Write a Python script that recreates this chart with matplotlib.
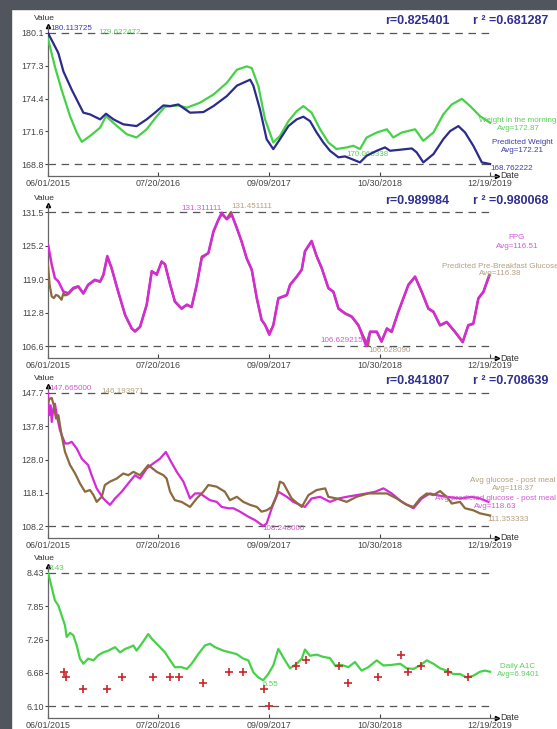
import matplotlib
matplotlib.use("Agg")
import matplotlib.pyplot as plt
from matplotlib.patches import Rectangle

plt.rcParams['font.family'] = ['Liberation Sans', 'DejaVu Sans']

# x axis: days since 06/01/2015
date_ticks = [0, 415, 831, 1247, 1662]
date_labels = ['06/01/2015', '07/20/2016', '09/09/2017', '10/30/2018', '12/19/2019']

# ---- panel 1: weight ----
weight_days = [0, 26, 51, 83, 108, 127, 158, 196, 218, 252, 296, 333, 371, 409, 440, 490, 522, 571,
               622, 672, 710, 747, 766, 791, 816, 847, 872, 904, 935, 960, 991, 1023, 1054, 1085,
               1123, 1148, 1173, 1198, 1236, 1274, 1298, 1330, 1380, 1411, 1449, 1486, 1518, 1556,
               1587, 1624, 1662]
weight_vals = [179.62, 177.2, 175.2, 172.9, 171.49, 170.68, 171.19, 171.91, 172.91, 172.2, 171.34,
               171.06, 171.77, 172.91, 173.72, 173.84, 173.64, 174.07, 174.78, 175.79, 176.93, 177.22,
               177.08, 175.5, 172.63, 170.63, 171.19, 172.48, 173.34, 173.78, 173.21, 171.77, 170.63,
               170.06, 170.2, 170.34, 170.06, 171.06, 171.49, 171.77, 171.06, 171.49, 171.77, 170.77,
               171.49, 173.06, 173.92, 174.41, 173.78, 172.91, 172.34]
pred_weight_days = [0, 20, 39, 58, 89, 114, 133, 158, 196, 218, 246, 283, 333, 371, 402, 434, 459,
                    490, 534, 584, 622, 672, 710, 760, 772, 797, 822, 847, 872, 904, 935, 960, 985,
                    1010, 1035, 1060, 1092, 1117, 1142, 1173, 1198, 1236, 1267, 1286, 1324, 1368,
                    1386, 1411, 1449, 1486, 1512, 1543, 1568, 1599, 1631, 1662]
pred_weight_vals = [180.11, 179.23, 178.37, 176.78, 175.21, 174.07, 173.21, 173.06, 172.63, 173.12,
                    172.63, 172.2, 172.05, 172.63, 173.21, 173.84, 173.78, 173.92, 173.21, 173.26,
                    173.78, 174.64, 175.55, 176.07, 175.55, 173.49, 170.91, 170.05, 170.91, 172.05,
                    172.63, 172.86, 172.48, 171.49, 170.63, 169.91, 169.34, 169.42, 169.19, 168.9,
                    169.48, 169.91, 170.2, 169.91, 170.0, 170.11, 169.77, 168.9, 169.62, 170.91,
                    171.62, 172.05, 171.49, 170.34, 168.9, 168.76]
weight_max, weight_min, weight_avg = 179.622472, 170.060338, 172.87
pred_weight_max, pred_weight_min, pred_weight_avg = 180.113725, 168.762222, 172.21
r1, r1_sq = 0.825401, 0.681287

# ---- panel 2: fasting glucose ----
fpg_days = [0, 14, 26, 39, 58, 76, 95, 114, 133, 151, 176, 196, 208, 223, 239, 264, 290, 315, 327,
            346, 371, 390, 409, 427, 440, 459, 477, 502, 522, 540, 559, 578, 603, 622, 641, 653,
            672, 691, 710, 728, 747, 766, 785, 803, 816, 832, 847, 866, 898, 910, 935, 954, 966,
            991, 1010, 1029, 1054, 1073, 1092, 1117, 1142, 1167, 1196, 1211, 1236, 1254, 1274,
            1292, 1317, 1355, 1380, 1405, 1430, 1449, 1474, 1499, 1530, 1559, 1580, 1599, 1618,
            1637, 1659]
fpg_vals = [125.43, 121.7, 119.2, 118.6, 116.7, 116.4, 117.4, 117.7, 116.4, 118.0, 118.9, 118.6,
            119.8, 123.3, 121.1, 116.7, 112.4, 109.9, 109.3, 110.2, 114.3, 120.5, 119.8, 122.3,
            121.7, 118.0, 114.9, 113.6, 114.3, 113.9, 118.0, 122.9, 123.9, 127.9, 130.1, 131.31,
            130.1, 130.9, 128.5, 126.0, 122.9, 120.8, 115.5, 111.5, 110.5, 108.7, 110.5, 115.5,
            116.1, 118.0, 119.5, 120.8, 124.2, 126.1, 123.3, 121.1, 117.4, 116.7, 113.6, 112.7,
            112.1, 110.5, 106.63, 109.3, 109.3, 107.5, 109.9, 109.3, 113.0, 118.0, 119.5, 116.7,
            113.6, 113.0, 110.5, 111.1, 109.3, 107.4, 110.5, 110.8, 115.5, 116.7, 119.8]
pred_fpg_days = [0, 6, 14, 22, 30, 39, 51, 58, 64, 76, 95, 114, 133, 151, 176, 196, 208, 223, 239,
                 264, 290, 315, 327, 346, 371, 390, 409, 427, 440, 459, 477, 502, 522, 540, 559,
                 578, 603, 622, 641, 653, 672, 688, 710, 728, 747, 766, 785, 803, 816, 832, 847,
                 866, 898, 910, 935, 954, 966, 991, 1010, 1029, 1054, 1073, 1092, 1117, 1142, 1167,
                 1203, 1211, 1236, 1254, 1274, 1292, 1317, 1355, 1380, 1405, 1430, 1449, 1474,
                 1499, 1530, 1559, 1580, 1599, 1618, 1637, 1659]
pred_fpg_vals = [121.7, 118.0, 115.8, 115.5, 116.1, 115.9, 115.2, 116.4, 116.0, 116.2, 117.2,
                 117.6, 116.3, 117.9, 118.8, 118.5, 119.7, 123.1, 121.0, 116.6, 112.3, 109.8,
                 109.4, 110.1, 114.2, 120.4, 120.0, 122.2, 121.8, 118.1, 114.8, 113.5, 114.2,
                 113.8, 117.8, 123.2, 123.8, 127.7, 130.0, 131.0, 130.2, 131.45, 128.4, 125.9,
                 122.8, 120.7, 115.4, 111.4, 110.6, 109.0, 110.4, 115.4, 116.0, 117.9, 119.4,
                 120.7, 124.1, 126.0, 123.2, 121.0, 117.3, 116.6, 113.5, 112.6, 112.0, 110.4,
                 106.63, 109.2, 109.2, 107.4, 109.8, 109.2, 112.9, 117.9, 119.4, 116.6, 113.5,
                 112.9, 110.4, 111.0, 109.2, 107.3, 110.4, 110.7, 115.4, 116.6, 119.6]
fpg_max, fpg_min, fpg_avg = 131.311111, 106.629215, 116.51
pred_fpg_max, pred_fpg_min, pred_fpg_avg = 131.451111, 106.628090, 116.38
r2, r2_sq = 0.989984, 0.980068

# ---- panel 3: post meal glucose ----
pm_days = [0, 7, 14, 22, 30, 39, 51, 64, 83, 102, 120, 139, 158, 171, 183, 202, 214, 233, 258, 283,
           302, 321, 346, 377, 409, 434, 446, 459, 477, 502, 534, 559, 584, 603, 634, 665, 684,
           710, 734, 760, 785, 803, 822, 841, 860, 872, 885, 916, 954, 979, 1010, 1042, 1054,
           1085, 1123, 1160, 1204, 1236, 1274, 1311, 1349, 1374, 1399, 1424, 1449, 1474, 1499,
           1518, 1549, 1568, 1599, 1624, 1662]
pm_vals = [145.0, 146.0, 146.19, 144.0, 140.1, 141.1, 135.2, 130.2, 126.3, 123.8, 120.9, 118.4,
           118.9, 117.4, 115.4, 116.9, 120.4, 121.4, 122.3, 123.8, 123.3, 124.3, 123.3, 126.3,
           124.3, 123.3, 122.3, 118.4, 115.9, 115.4, 113.9, 116.4, 118.4, 120.4, 119.9, 118.4,
           115.9, 116.9, 115.4, 114.5, 113.9, 112.5, 112.9, 113.9, 117.4, 121.4, 120.9, 116.4,
           113.9, 117.4, 118.9, 119.4, 116.9, 116.4, 115.4, 116.9, 117.9, 117.9, 117.9, 116.4,
           114.5, 113.9, 116.4, 117.9, 117.4, 118.6, 116.9, 114.9, 115.4, 113.5, 112.9, 112.0,
           111.35]
pred_pm_days = [0, 4, 10, 14, 20, 26, 33, 45, 64, 76, 89, 108, 127, 151, 164, 183, 208, 233, 252,
                277, 302, 327, 346, 371, 396, 421, 443, 459, 484, 509, 534, 553, 572, 590, 609,
                634, 653, 678, 697, 722, 753, 778, 809, 822, 841, 866, 898, 922, 948, 966, 991,
                1023, 1060, 1092, 1123, 1160, 1198, 1230, 1261, 1292, 1330, 1374, 1405, 1436,
                1461, 1499, 1549, 1593, 1624, 1656]
pred_pm_vals = [147.67, 141.1, 144.0, 139.1, 143.0, 144.5, 141.1, 136.6, 132.7, 132.7, 133.2, 131.2,
                128.2, 126.3, 123.3, 119.4, 116.4, 114.5, 116.4, 118.4, 120.9, 123.3, 122.3, 125.3,
                126.8, 128.2, 130.2, 127.8, 124.3, 121.4, 116.4, 117.9, 117.9, 116.9, 115.9, 115.4,
                113.9, 113.5, 113.5, 112.5, 111.0, 110.0, 108.25, 109.0, 113.5, 118.4, 116.9,
                115.4, 114.5, 113.9, 116.4, 116.9, 115.4, 116.4, 116.9, 117.4, 117.9, 118.4, 119.4,
                117.9, 115.4, 113.5, 116.4, 117.9, 117.4, 116.9, 116.4, 116.9, 116.4, 115.4]
pm_max, pm_min, pm_avg = 146.193971, 111.353333, 118.37
pred_pm_max, pred_pm_min, pred_pm_avg = 147.665000, 108.248000, 118.63
r3, r3_sq = 0.841807, 0.708639

# ---- panel 4: A1C ----
a1c_days = [0, 6, 18, 26, 39, 51, 64, 70, 83, 95, 108, 120, 133, 151, 171, 189, 208, 227, 239, 252,
            271, 290, 308, 321, 333, 352, 377, 390, 415, 440, 459, 477, 502, 522, 540, 565, 590,
            609, 628, 659, 684, 709, 734, 753, 772, 791, 809, 828, 847, 866, 891, 910, 935, 954,
            966, 985, 1010, 1035, 1060, 1079, 1104, 1129, 1154, 1179, 1204, 1236, 1261, 1292,
            1324, 1349, 1374, 1399, 1424, 1449, 1474, 1499, 1524, 1549, 1574, 1599, 1624, 1643,
            1662]
a1c_vals = [8.43, 8.33, 8.10, 7.95, 7.86, 7.69, 7.51, 7.31, 7.38, 7.34, 7.16, 6.93, 6.84, 6.93,
            6.90, 6.99, 7.04, 7.07, 7.10, 7.13, 7.04, 7.10, 7.13, 7.16, 7.07, 7.19, 7.36, 7.28,
            7.16, 7.04, 6.90, 6.78, 6.78, 6.75, 6.84, 7.01, 7.16, 7.19, 7.13, 7.07, 7.04, 7.01,
            6.93, 6.90, 6.69, 6.60, 6.55, 6.66, 6.81, 7.10, 6.90, 6.76, 6.84, 6.93, 7.09, 6.98,
            7.00, 6.96, 6.94, 6.81, 6.82, 6.78, 6.87, 6.72, 6.78, 6.90, 6.81, 6.82, 6.84, 6.76,
            6.75, 6.81, 6.90, 6.84, 6.76, 6.72, 6.66, 6.66, 6.60, 6.63, 6.70, 6.72, 6.70]
lab_days = [60, 68, 132, 222, 278, 395, 459, 493, 583, 681, 733, 812, 831, 933, 970, 1094, 1128,
            1241, 1327, 1354, 1403, 1504, 1579]
lab_vals = [6.7, 6.6, 6.4, 6.4, 6.6, 6.6, 6.6, 6.6, 6.5, 6.7, 6.7, 6.4, 6.1, 6.8, 6.9, 6.8, 6.5,
            6.6, 7.0, 6.7, 6.8, 6.7, 6.6]
a1c_max, a1c_min, a1c_avg = 8.43, 6.55, 6.9401

GREEN, GREEN_T = '#46d246', '#5ccf5c'
NAVY, NAVY_T = '#2b2b8c', '#3c3cae'
MAG, MAG_T = '#d52ad5', '#d35ad3'
BROWN, TAN_T = '#8a6a3e', '#b3a080'
R_COL = '#30308e'
RED = '#c8262a'

W, H = 557, 729
fig = plt.figure(figsize=(W / 100, H / 100), dpi=100)
fig.patch.set_facecolor('white')
fig.add_artist(Rectangle((0, 0), 11 / W, 1, transform=fig.transFigure, color='#51555d', zorder=0))
fig.add_artist(Rectangle((0, 1 - 9 / H), 1, 9 / H, transform=fig.transFigure, color='#51555d', zorder=0))

# panel pixel extents (top, bottom)
rows = [(26, 176), (205, 358), (386, 538), (566, 718)]


def make_panel(top, bottom, lo, hi, fmt):
    ax = fig.add_axes([48 / W, 1 - bottom / H, 449 / W, (bottom - top) / H])
    scale = (hi - lo) / (bottom - top - 19)
    ax.set_ylim(lo - 12 * scale, hi + 7 * scale)
    ax.set_xlim(0, 1688)
    for s in ['top', 'right']:
        ax.spines[s].set_visible(False)
    for s in ['left', 'bottom']:
        ax.spines[s].set_color('#666666')
        ax.spines[s].set_linewidth(0.9)
    ticks = [lo + k * (hi - lo) / 4 for k in range(5)]
    ax.set_yticks(ticks)
    ax.set_yticklabels([fmt.format(t) for t in ticks])
    ax.set_xticks(date_ticks)
    ax.set_xticklabels(date_labels)
    ax.tick_params(axis='y', direction='out', length=2, pad=1, labelsize=6.4, colors='#444444')
    ax.tick_params(axis='x', direction='in', length=3, pad=2, labelsize=6.4, colors='#444444')
    ax.hlines([lo, hi], date_ticks[0], date_ticks[-1], colors='#555555', linestyles=(0, (6, 4.5)),
              linewidth=0.9, zorder=1)
    ax.plot(0, 1, marker='^', color='black', markersize=3, transform=ax.transAxes, clip_on=False)
    ax.plot(1, 0, marker='>', color='black', markersize=3, transform=ax.transAxes, clip_on=False)
    fig.text(44 / W, 1 - (top - 7) / H, 'Value', fontsize=6, color='#333333', ha='center', va='center')
    fig.text(500 / W, 1 - bottom / H, 'Date', fontsize=6.4, color='#333333', ha='left', va='center')
    return ax


def tag(ax, x, y, text, color, dx, dy, ha='left'):
    ax.annotate(text, (x, y), xytext=(dx, dy), textcoords='offset pixels', fontsize=5.8,
                color=color, ha=ha, va='center', zorder=2, annotation_clip=False)


def ftext(x, y, text, color):
    fig.text(x / W, 1 - y / H, text, fontsize=5.8, color=color, ha='center', va='center')


def rtext(y, r, rsq):
    fig.text(385 / W, 1 - y / H, 'r={:.6f}'.format(r), fontsize=9, fontweight='bold', color=R_COL,
             ha='left', va='center')
    fig.text(473 / W, 1 - y / H, 'r \u00b2 ={:.6f}'.format(rsq), fontsize=9, fontweight='bold',
             color=R_COL, ha='left', va='center')


# panel 1
ax1 = make_panel(*rows[0], pred_weight_min, pred_weight_max, '{:.1f}')
ax1.plot(weight_days, weight_vals, color=GREEN, lw=1.6, zorder=3)
ax1.plot(pred_weight_days, pred_weight_vals, color=NAVY, lw=1.6, zorder=4)
tag(ax1, 0, pred_weight_max, '{:.6f}'.format(pred_weight_max), NAVY_T, 2, 5)
tag(ax1, 0, weight_max, '{:.6f}'.format(weight_max), GREEN_T, 50, 6)
tag(ax1, 1085, weight_min, '{:.6f}'.format(weight_min), GREEN_T, 10, -5)
tag(ax1, 1662, pred_weight_min, '{:.6f}'.format(pred_weight_min), NAVY_T, 0, -5)
ftext(518, 121, 'Weight in the morning', GREEN_T)
ftext(518, 128, 'Avg={:.2f}'.format(weight_avg), GREEN_T)
ftext(522, 143, 'Predicted Weight', NAVY_T)
ftext(522, 150, 'Avg={:.2f}'.format(pred_weight_avg), NAVY_T)
rtext(21, r1, r1_sq)

# panel 2
ax2 = make_panel(*rows[1], pred_fpg_min, pred_fpg_max, '{:.1f}')
ax2.plot(pred_fpg_days, pred_fpg_vals, color=BROWN, lw=1.6, zorder=3)
ax2.plot(fpg_days, fpg_vals, color=MAG, lw=1.8, zorder=4)
tag(ax2, 653, fpg_max, '{:.6f}'.format(fpg_max), MAG_T, 0, 4, ha='right')
tag(ax2, 688, pred_fpg_max, '{:.6f}'.format(pred_fpg_max), TAN_T, 0, 5)
tag(ax2, 1196, fpg_min, '{:.6f}'.format(fpg_min), MAG_T, -3, 5, ha='right')
tag(ax2, 1203, pred_fpg_min, '{:.6f}'.format(pred_fpg_min), TAN_T, 0, -4)
ftext(517, 238, 'FPG', MAG_T)
ftext(517, 247, 'Avg={:.2f}'.format(fpg_avg), MAG_T)
ftext(500, 267, 'Predicted Pre-Breakfast Glucose', TAN_T)
ftext(500, 274, 'Avg={:.2f}'.format(pred_fpg_avg), TAN_T)
rtext(201, r2, r2_sq)

# panel 3
ax3 = make_panel(*rows[2], pred_pm_min, pred_pm_max, '{:.1f}')
ax3.plot(pred_pm_days, pred_pm_vals, color=MAG, lw=1.6, zorder=3)
ax3.plot(pm_days, pm_vals, color=BROWN, lw=1.6, zorder=4)
tag(ax3, 0, pred_pm_max, '{:.6f}'.format(pred_pm_max), MAG_T, 1, 5)
tag(ax3, 14, pm_max, '{:.6f}'.format(pm_max), TAN_T, 50, 6)
tag(ax3, 1662, pm_min, '{:.6f}'.format(pm_min), TAN_T, -3, -4)
tag(ax3, 809, pred_pm_min, '{:.6f}'.format(pred_pm_min), MAG_T, -1, -3)
ftext(513, 481, 'Avg glucose - post meal', TAN_T)
ftext(513, 488, 'Avg={:.2f}'.format(pm_avg), TAN_T)
ftext(495, 499, 'Avg predicted glucose - post meal', MAG_T)
ftext(495, 506, 'Avg={:.2f}'.format(pred_pm_avg), MAG_T)
rtext(381, r3, r3_sq)

# panel 4
ax4 = make_panel(*rows[3], min(lab_vals), a1c_max, '{:.2f}')
ax4.plot(a1c_days, a1c_vals, color=GREEN, lw=1.6, zorder=3)
ax4.scatter(lab_days, lab_vals, marker='+', s=30, color=RED, linewidths=1.2, zorder=4)
tag(ax4, 0, a1c_max, '{:.2f}'.format(a1c_max), GREEN_T, 1, 5)
tag(ax4, 809, a1c_min, '{:.2f}'.format(a1c_min), GREEN_T, -1, -4)
ftext(518, 667, 'Daily A1C', GREEN_T)
ftext(518, 674, 'Avg={:.4f}'.format(a1c_avg), GREEN_T)

fig.savefig('out.png', dpi=100)
